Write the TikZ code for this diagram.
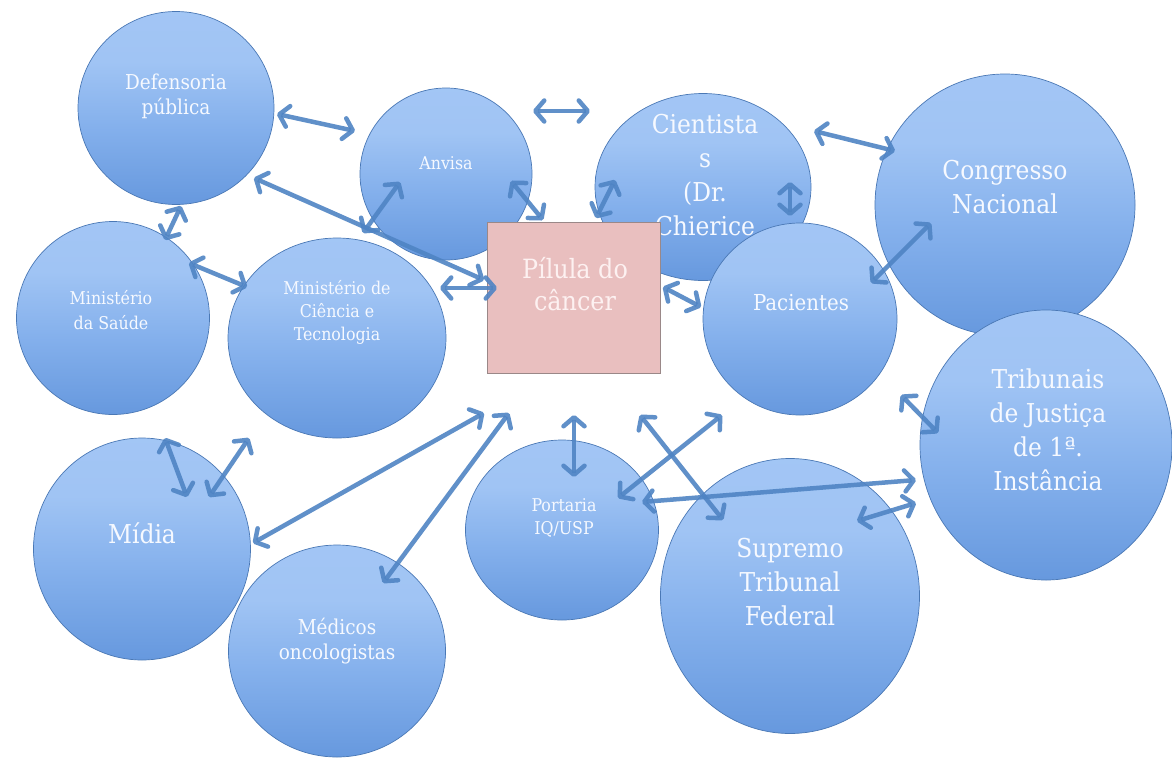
\documentclass[tikz,border=0pt]{standalone}
\usepackage{fontspec}
\setmainfont{DejaVu Serif Condensed}
\usetikzlibrary{arrows.meta,shapes.geometric}
\definecolor{blobline}{HTML}{4A78B5}
\definecolor{arrowc}{HTML}{4F84C4}
\definecolor{pillfill}{HTML}{E9BFBF}
\definecolor{pillline}{HTML}{9A8888}
\definecolor{pilltext}{HTML}{FDF1F1}
\definecolor{lbltext}{HTML}{F6F9FF}
\definecolor{shA}{RGB}{90,142,216}
\definecolor{shB}{RGB}{98,149,220}
\definecolor{shC}{RGB}{132,176,236}
\definecolor{shD}{RGB}{160,196,244}
\definecolor{shE}{RGB}{166,200,246}
\definecolor{shF}{RGB}{150,188,240}
\pgfdeclareverticalshading{blobshade}{100bp}{%
  color(0bp)=(shA);
  color(22bp)=(shB);
  color(45bp)=(shC);
  color(62bp)=(shD);
  color(94bp)=(shE);
  color(100bp)=(shF)}
\begin{document}
\begin{tikzpicture}[x=1pt,y=-1pt,
  blob/.style={ellipse, draw=blobline, line width=0.7pt, shading=blobshade, inner sep=0pt},
  lbl/.style={text=lbltext, align=center, inner sep=0pt},
  big/.style={lbl, font=\fontsize{26}{34}\selectfont},
  mid/.style={lbl, font=\fontsize{20.5}{25}\selectfont},
  small/.style={lbl, font=\fontsize{17.6}{23}\selectfont},
  arr/.style={draw=arrowc, line width=4.5pt, opacity=0.9,
    {Straight Barb[length=9pt,width=21pt,round]}-{Straight Barb[length=9pt,width=21pt,round]}}
]
\useasboundingbox (0,0) rectangle (1172,758);
\fill[white] (0,0) rectangle (1172,758);

% circles
\node[blob, minimum width=196pt, minimum height=193pt] (def) at (176,108) {};
\node[blob, minimum width=193pt, minimum height=193pt] (sau) at (113,318) {};
\node[blob, minimum width=218pt, minimum height=200pt] (cie) at (337,338) {};
\node[blob, minimum width=172pt, minimum height=172pt] (anv) at (446,174) {};
\node[blob, minimum width=260pt, minimum height=262pt] (con) at (1005,205) {};
\node[blob, minimum width=216pt, minimum height=187pt] (sci) at (703,187) {};
\node[blob, minimum width=194pt, minimum height=192pt] (pac) at (800,319) {};
\node[blob, minimum width=252pt, minimum height=270pt] (tri) at (1046,445) {};
\node[blob, minimum width=217pt, minimum height=222pt] (mid) at (142,549) {};
\node[blob, minimum width=217pt, minimum height=212pt] (med) at (337,651) {};
\node[blob, minimum width=193pt, minimum height=180pt] (por) at (562,530) {};
\node[blob, minimum width=259pt, minimum height=275pt] (sup) at (790,596) {};

% labels
\node[mid] (defT) at (176,96) {Defensoria\\pública};
\node[small, font=\fontsize{17.6}{25}\selectfont] (sauT) at (111,310) {Ministério\\da Saúde};
\node[small] (cieT) at (337,312) {Ministério de\\Ciência e\\Tecnologia};
\node[small] (anvT) at (446,163) {Anvisa};
\node[big] (sciT) at (705,175) {Cientista\\s\\(Dr.\\Chierice};
\node[big] (conT) at (1005,187) {Congresso\\Nacional};
\node[lbl, font=\fontsize{22}{26}\selectfont] (pacT) at (801,303) {Pacientes};
\node[big] (triT) at (1048,430) {Tribunais\\de Justiça\\de 1ª.\\Instância};
\node[big] (midT) at (142,533) {Mídia};
\node[mid] (medT) at (337,641) {Médicos\\oncologistas};
\node[small] (porT) at (564,518) {Portaria\\IQ/USP};
\node[big] (supT) at (790,582) {Supremo\\Tribunal\\Federal};

% central box
\node[draw=pillline, line width=0.7pt, fill=pillfill, minimum width=173pt, minimum height=151pt, inner sep=0pt] (pil) at (573.5,297.5) {};
\node[lbl, text=pilltext, font=\fontsize{26.5}{32}\selectfont] (pilT) at (575,284) {Pílula do\\câncer};

% arrow end points
\coordinate (a1) at (277,114);  \coordinate (b1) at (355,131);
\coordinate (a2) at (533,111);  \coordinate (b2) at (590,111);
\coordinate (a3) at (254,178);  \coordinate (b3) at (484,280);
\coordinate (a4) at (400,182);  \coordinate (b4) at (363,233);
\coordinate (a5) at (511,181);  \coordinate (b5) at (543,220);
\coordinate (a6) at (615,180);  \coordinate (b6) at (596,218);
\coordinate (a7) at (790,182);  \coordinate (b7) at (790,216);
\coordinate (a8) at (814,131);  \coordinate (b8) at (895,151);
\coordinate (a9) at (931,223);  \coordinate (b9) at (871,283);
\coordinate (a10) at (663,287); \coordinate (b10) at (701,307);
\coordinate (a11) at (440,288); \coordinate (b11) at (497,288);
\coordinate (a12) at (181,206); \coordinate (b12) at (165,240);
\coordinate (a13) at (189,263); \coordinate (b13) at (247,287);
\coordinate (a14) at (165,438); \coordinate (b14) at (187,497);
\coordinate (a15) at (249,438); \coordinate (b15) at (209,497);
\coordinate (a16) at (253,543); \coordinate (b16) at (484,413);
\coordinate (a17) at (383,583); \coordinate (b17) at (509,413);
\coordinate (a18) at (574,415); \coordinate (b18) at (574,477);
\coordinate (a19) at (722,415); \coordinate (b19) at (618,498);
\coordinate (a20) at (640,415); \coordinate (b20) at (723,520);
\coordinate (a21) at (642,502); \coordinate (b21) at (916,480);
\coordinate (a22) at (857,521); \coordinate (b22) at (916,503);
\coordinate (a23) at (901,395); \coordinate (b23) at (938,433);

\foreach \i in {1,...,23} {\draw[arr] (a\i) -- (b\i);}
\end{tikzpicture}
\end{document}
